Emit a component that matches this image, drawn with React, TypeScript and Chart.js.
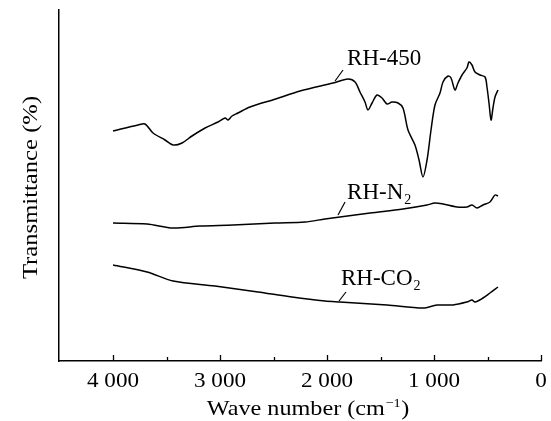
import React, { useEffect, useRef } from "react";
import { Chart, registerables } from "chart.js";
Chart.register(...registerables);

// Wave numbers (cm-1) and transmittance (arbitrary units)
const rh450Wave = [4000, 3766, 3701, 3626, 3514, 3439, 3355, 3262, 3140, 3019, 2953, 2925, 2888, 2832, 2720, 2480, 2252, 1944, 1804, 1738, 1692, 1645, 1617, 1579, 1533, 1486, 1439, 1393, 1336, 1290, 1243, 1178, 1140, 1103, 1065, 1028, 991, 944, 916, 869, 841, 804, 776, 738, 692, 673, 645, 617, 570, 523, 505, 486, 467, 449, 430, 402];
const rh450Value = [230, 236, 237, 228, 221, 216, 218, 225, 233, 239, 243, 241, 245, 248, 254, 262, 270, 278, 282, 279, 269, 259, 251, 258, 266, 263, 257, 259, 258, 253, 231, 216, 201, 184, 201, 231, 256, 268, 279, 285, 283, 271, 278, 286, 293, 299, 296, 289, 286, 284, 274, 258, 241, 253, 264, 271];

const rhN2Wave = [4000, 3682, 3439, 3187, 2878, 2486, 2206, 2019, 1879, 1598, 1290, 1065, 991, 916, 785, 692, 645, 598, 542, 477, 430, 402];
const rhN2Value = [138, 137, 133, 135, 136, 138, 139, 142, 144, 148, 152, 156, 158, 157, 154, 154, 156, 153, 156, 159, 166, 165];

const rhCO2Wave = [4000, 3682, 3439, 3047, 2645, 2327, 2019, 1879, 1439, 1103, 972, 822, 692, 645, 617, 542, 477, 402];
const rhCO2Value = [96, 89, 80, 75, 69, 64, 60, 59, 56, 53, 56, 56, 59, 61, 59, 63, 68, 74];

const seriesNames = ["RH-450", "RH-N", "RH-CO"];
const seriesSubscripts = ["", "2", "2"];
const labelAnchorWave = [1925, 1897, 1888];
const labelAnchorValue = [280, 146, 60];

const majorTicks = [0, 1000, 2000, 3000, 4000];
const minorTicks = [500, 1500, 2500, 3500];
const tickLabels = ["0", "1 000", "2 000", "3 000", "4 000"];
const xTitleMain = "Wave number (cm";
const xTitleSup = "\u22121";
const yTitle = "Transmittance (%)";

const FONT = '"Liberation Serif", "Times New Roman", serif';

export default function App() {
  const ref = useRef<HTMLCanvasElement>(null);
  useEffect(() => {
    const toPts = (w: number[], v: number[]) => w.map((x, i) => ({ x, y: v[i] }));
    const leaderOff = [
      [8, -11, 12, -16],
      [7, -13, 9, -16],
      [7, -9, 2, -16],
    ];
    const annot = {
      id: "annot",
      afterDraw(chart: any) {
        const ctx = chart.ctx;
        const xs = chart.scales.x;
        const ys = chart.scales.y;
        const ca = chart.chartArea;
        ctx.save();
        ctx.strokeStyle = "#000";
        ctx.fillStyle = "#000";
        // inward ticks
        ctx.lineWidth = 1.3;
        const all = [...majorTicks.map((v) => [v, 6]), ...minorTicks.map((v) => [v, 4])];
        for (const [v, len] of all) {
          const px = Math.round(xs.getPixelForValue(v)) + 0.5;
          ctx.beginPath();
          ctx.moveTo(px, ca.bottom);
          ctx.lineTo(px, ca.bottom - len);
          ctx.stroke();
        }
        // tick labels (slightly wide serif)
        const SX = 1.1;
        ctx.font = `21px ${FONT}`;
        ctx.textAlign = "center";
        ctx.textBaseline = "alphabetic";
        majorTicks.forEach((v, i) => {
          const px = xs.getPixelForValue(v);
          ctx.save();
          ctx.translate(px, 387);
          ctx.scale(SX, 1);
          ctx.fillText(tickLabels[i], 0, 0);
          ctx.restore();
        });
        ctx.textAlign = "left";
        // labels
        for (let i = 0; i < seriesNames.length; i++) {
          const ax = xs.getPixelForValue(labelAnchorWave[i]);
          const ay = ys.getPixelForValue(labelAnchorValue[i]);
          const [lx, ly, tx, ty] = leaderOff[i];
          ctx.lineWidth = 1.2;
          ctx.beginPath();
          ctx.moveTo(ax, ay);
          ctx.lineTo(ax + lx, ay + ly);
          ctx.stroke();
          ctx.font = `23px ${FONT}`;
          ctx.fillText(seriesNames[i], ax + tx, ay + ty);
          if (seriesSubscripts[i]) {
            const w = ctx.measureText(seriesNames[i]).width;
            ctx.font = `14px ${FONT}`;
            ctx.fillText(seriesSubscripts[i], ax + tx + w + 1, ay + ty + 5);
          }
        }
        // x title
        const TX = 1.1;
        ctx.font = `22px ${FONT}`;
        const w1 = ctx.measureText(xTitleMain).width;
        ctx.font = `13px ${FONT}`;
        const w2 = ctx.measureText(xTitleSup).width;
        ctx.font = `22px ${FONT}`;
        const w3 = ctx.measureText(")").width;
        const total = w1 + w2 + w3 + 1;
        ctx.save();
        ctx.translate(308, 415);
        ctx.scale(TX, 1);
        const x0 = -total / 2;
        ctx.fillText(xTitleMain, x0, 0);
        ctx.font = `13px ${FONT}`;
        ctx.fillText(xTitleSup, x0 + w1 + 0.5, -8);
        ctx.font = `22px ${FONT}`;
        ctx.fillText(")", x0 + w1 + w2 + 1, 0);
        ctx.restore();
        // y title
        ctx.translate(37, (ca.top + ca.bottom) / 2 + 2);
        ctx.rotate(-Math.PI / 2);
        ctx.scale(1.12, 1);
        ctx.textAlign = "center";
        ctx.font = `22px ${FONT}`;
        ctx.fillText(yTitle, 0, 0);
        ctx.restore();
      },
    };
    const ds = (w: number[], v: number[]) => ({
      data: toPts(w, v),
      borderColor: "#000",
      borderWidth: 1.5,
      pointRadius: 0,
      tension: 0.3,
      fill: false,
    });
    const chart = new Chart(ref.current as HTMLCanvasElement, {
      type: "line",
      data: {
        datasets: [ds(rh450Wave, rh450Value), ds(rhN2Wave, rhN2Value), ds(rhCO2Wave, rhCO2Value)],
      },
      options: {
        responsive: false,
        animation: false,
        layout: { padding: { top: 10, right: 10, left: 0, bottom: 0 } },
        plugins: { legend: { display: false }, tooltip: { enabled: false } },
        scales: {
          x: {
            type: "linear",
            reverse: true,
            min: 0,
            max: 4505,
            afterBuildTicks: (s: any) => {
              s.ticks = majorTicks.map((v) => ({ value: v }));
            },
            afterFit: (s: any) => {
              s.height = 60;
            },
            grid: { display: false, drawTicks: false },
            border: { display: true, color: "#000", width: 1.5 },
            ticks: { display: false },
          },
          y: {
            min: 0,
            max: 351,
            afterFit: (s: any) => {
              s.width = 59;
            },
            grid: { display: false, drawTicks: false },
            border: { display: true, color: "#000", width: 1.5 },
            ticks: { display: false },
          },
        },
      },
      plugins: [annot],
    } as any);
    return () => chart.destroy();
  }, []);
  return (
    <div style={{ position: "fixed", left: 0, top: 0, width: 551, height: 421, background: "#fff" }}>
      <canvas ref={ref} width={551} height={421} style={{ display: "block" }} />
    </div>
  );
}
